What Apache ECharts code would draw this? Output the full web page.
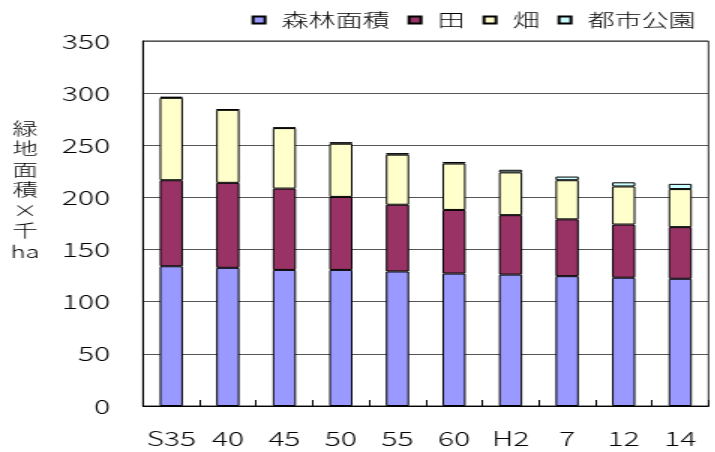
<!DOCTYPE html>
<html>
<head>
<meta charset="utf-8">
<script src="https://cdn.jsdelivr.net/npm/echarts@6/dist/echarts.min.js"></script>
<style>
  html, body { margin: 0; padding: 0; background: #fff; overflow: hidden; }
  /* the chart is drawn in a narrower box and widened with a horizontal stretch */
  #chart { width: 476.667px; height: 452px; transform: scaleX(1.5); transform-origin: 0 0; }
</style>
</head>
<body>
<div id="chart"></div>
<script>
// 緑地面積の推移（千ha）
const categories = ['S35', '40', '45', '50', '55', '60', 'H2', '7', '12', '14'];
const forestArea = [134, 132.5, 130.5, 130.5, 129, 127, 126, 124.5, 123, 122];
const paddyArea  = [82.5, 81.5, 78, 70, 64, 61, 57, 54.5, 51, 49.5];
const fieldArea  = [79, 70, 58, 51, 48, 44.5, 41, 37.5, 36.5, 36.5];
const parkArea   = [1, 0.5, 0.5, 1.5, 1.5, 1.5, 2.5, 3.5, 4, 5];
const seriesNames = ['森林面積', '田', '畑', '都市公園'];
const yTitle = '緑\n地\n面\n積\n×\n千\nha';

const SX = 1.5;                       // horizontal stretch of the whole drawing
const cjkFont = '"Noto Sans CJK JP", "DejaVu Sans", sans-serif';
const colors = ['#9999FF', '#993366', '#FFFFCC', '#CCFFFF'];
const dataSets = [forestArea, paddyArea, fieldArea, parkArea];

const chart = echarts.init(document.getElementById('chart'), null, { renderer: 'canvas' });

chart.setOption({
  animation: false,
  backgroundColor: '#ffffff',
  textStyle: { fontFamily: cjkFont, color: '#000' },
  legend: {
    left: 244 / SX,
    top: 6,
    itemWidth: 12 / SX,
    itemHeight: 7,
    itemGap: 12,
    icon: 'rect',
    textStyle: { fontSize: 18, fontWeight: 300, color: '#000', fontFamily: cjkFont, padding: [0, 0, 0, 6] },
    data: seriesNames
  },
  grid: {
    left: 143 / SX,
    right: (715 - 708) / SX,
    top: 41,
    bottom: 46,
    show: true,
    borderColor: '#222',
    borderWidth: 1,
    containLabel: false
  },
  xAxis: {
    type: 'category',
    data: categories,
    axisLine: { lineStyle: { color: '#000', width: 1 } },
    axisTick: { show: true, inside: true, length: 6, alignWithLabel: false, lineStyle: { color: '#000' } },
    axisLabel: { interval: 0, fontSize: 20, fontWeight: 300, color: '#000', margin: 22, fontFamily: cjkFont }
  },
  yAxis: {
    type: 'value',
    min: 0,
    max: 350,
    interval: 50,
    axisLine: { show: true, lineStyle: { color: '#000', width: 1 } },
    axisTick: { show: false },
    axisLabel: { fontSize: 20, fontWeight: 300, color: '#000', margin: 22, fontFamily: cjkFont },
    splitLine: { lineStyle: { color: '#555', width: 1 } }
  },
  graphic: [{
    type: 'text',
    x: 25 / SX,
    y: 118,
    style: {
      text: yTitle,
      fill: '#000',
      font: '300 17px ' + cjkFont,
      lineHeight: 20.5,
      align: 'center',
      verticalAlign: 'top'
    }
  }],
  series: seriesNames.map((name, i) => ({
    name: name,
    type: 'bar',
    stack: 'green',
    barWidth: '41%',
    data: dataSets[i],
    itemStyle: { color: colors[i], borderColor: '#000', borderWidth: 1 }
  }))
});
</script>
</body>
</html>
